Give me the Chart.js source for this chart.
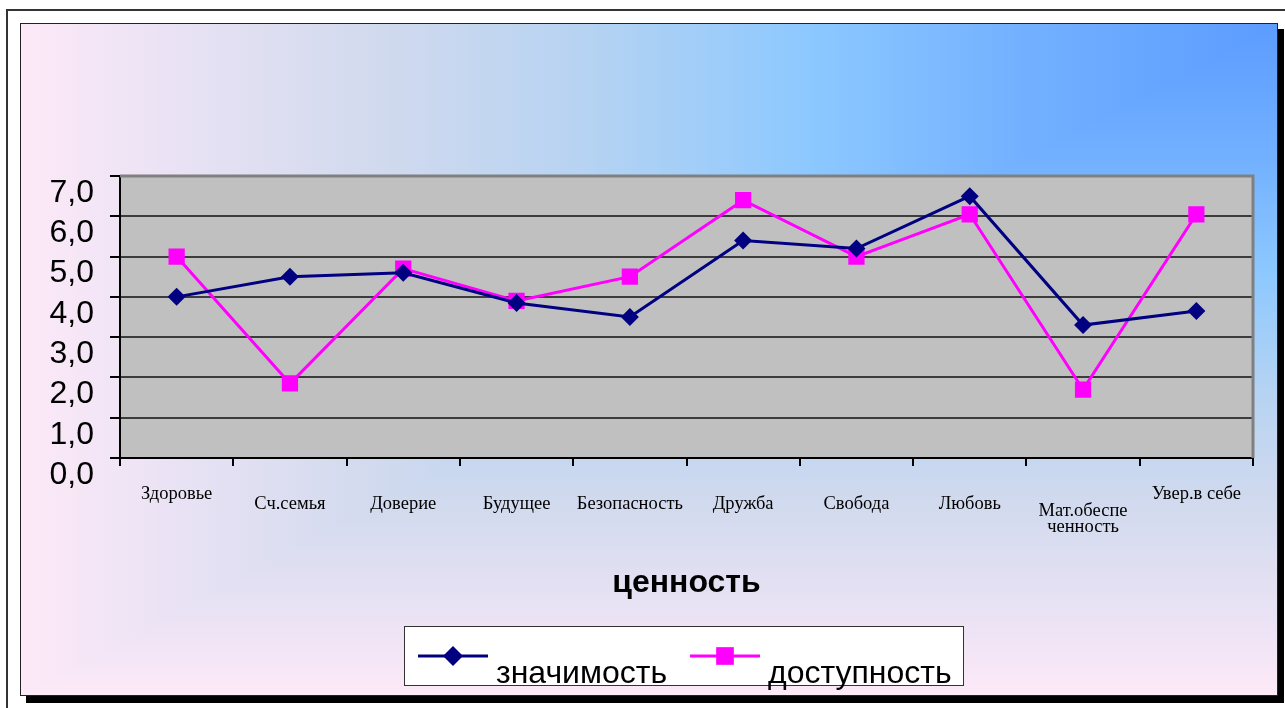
<!DOCTYPE html>
<html lang="ru">
<head>
<meta charset="utf-8">
<title>Ценности: значимость и доступность</title>
<script src="https://cdn.jsdelivr.net/npm/chart.js"></script>
<style>
    html, body { margin: 0; padding: 0; background: #fff; }
    canvas { display: block; }
</style>
</head>
<body>
<canvas id="values-chart" width="1285" height="708"></canvas>
<script>
// Values on the x axis
const categories = ['Здоровье', 'Сч.семья', 'Доверие', 'Будущее', 'Безопасность',
    'Дружба', 'Свобода', 'Любовь', 'Мат.обеспеченность', 'Увер.в себе'];
// How each category name is broken into lines under the axis
const tickLabels = ['Здоровье', 'Сч.семья', 'Доверие', 'Будущее', 'Безопасность',
    'Дружба', 'Свобода', 'Любовь', ['Мат.обеспе', 'ченность'], 'Увер.в себе'];

const significance = [4.0, 4.5, 4.6, 3.85, 3.5, 5.4, 5.2, 6.5, 3.3, 3.65];
const availability = [5.0, 1.85, 4.7, 3.9, 4.5, 6.4, 5.0, 6.05, 1.7, 6.05];

const seriesNames = ['значимость', 'доступность'];
const yTicks = [0, 1, 2, 3, 4, 5, 6, 7];
const xTitle = 'ценность';

const SANS = "'Liberation Sans', Arial, sans-serif";
const SERIF = "'Liberation Serif', 'Times New Roman', serif";

// frame of the chart sheet
const sheet = { x0: 20, y0: 23, x1: 1277, y1: 695 };

// pink -> blue, brightest blue in the top right corner
const gradStops = [
    [0, '#5c9cff'],
    [0.2, '#72b0ff'],
    [0.37, '#8cc8ff'],
    [0.55, '#b6d3f2'],
    [0.72, '#d2daee'],
    [0.87, '#e8e2f4'],
    [1, '#fde9f8']
];

function addStops(g) {
    gradStops.forEach(s => g.addColorStop(s[0], s[1]));
    return g;
}

const backgroundPlugin = {
    id: 'sheetBackground',
    beforeDraw(chart) {
        const ctx = chart.ctx;
        const { x0, y0, x1, y1 } = sheet;
        ctx.save();
        ctx.fillStyle = '#fff';
        ctx.fillRect(0, 0, chart.width, chart.height);

        // outer page frame
        ctx.strokeStyle = '#333';
        ctx.lineWidth = 2;
        ctx.strokeRect(7, 10, 1300, 720);

        // drop shadow
        ctx.fillStyle = '#000';
        ctx.fillRect(x0 + 6, y0 + 6, x1 - x0 + 1, y1 - y0 + 2);

        // corner gradient: horizontal over the whole sheet, then the
        // lower-right triangle runs vertically (colours meet on the diagonal)
        ctx.fillStyle = addStops(ctx.createLinearGradient(x1, 0, x0, 0));
        ctx.fillRect(x0, y0, x1 - x0, y1 - y0);

        ctx.save();
        ctx.beginPath();
        ctx.moveTo(x1, y0); ctx.lineTo(x1, y1); ctx.lineTo(x0, y1); ctx.closePath();
        ctx.clip();
        ctx.fillStyle = addStops(ctx.createLinearGradient(0, y0, 0, y1));
        ctx.fillRect(x0, y0, x1 - x0, y1 - y0);
        ctx.restore();

        ctx.strokeStyle = '#222';
        ctx.lineWidth = 1;
        ctx.strokeRect(x0 + 0.5, y0 + 0.5, x1 - x0, y1 - y0);

        // plot area
        const a = chart.chartArea;
        ctx.fillStyle = '#c0c0c0';
        ctx.fillRect(a.left, a.top, a.right - a.left, a.bottom - a.top);
        ctx.restore();
    },
    beforeDatasetsDraw(chart) {
        const ctx = chart.ctx;
        const a = chart.chartArea;
        ctx.save();
        ctx.strokeStyle = '#808080';
        ctx.lineWidth = 3;
        ctx.beginPath();
        ctx.moveTo(a.left, a.top);
        ctx.lineTo(a.right, a.top);
        ctx.lineTo(a.right, a.bottom);
        ctx.stroke();
        ctx.restore();
    }
};

function drawMarker(ctx, style, x, y, r, color) {
    ctx.fillStyle = color;
    ctx.beginPath();
    if (style === 'rectRot') {
        ctx.moveTo(x, y - r); ctx.lineTo(x + r, y); ctx.lineTo(x, y + r); ctx.lineTo(x - r, y);
    } else {
        const h = r * Math.SQRT1_2;
        ctx.rect(x - h, y - h, 2 * h, 2 * h);
    }
    ctx.closePath();
    ctx.fill();
}

// legend box with the text sitting below the line samples
const legendPlugin = {
    id: 'boxLegend',
    afterDraw(chart) {
        const ctx = chart.ctx;
        const box = { x: 404, y: 626, w: 559, h: 59 };
        ctx.save();
        ctx.fillStyle = '#fff';
        ctx.fillRect(box.x, box.y, box.w, box.h);
        ctx.strokeStyle = '#333';
        ctx.lineWidth = 1;
        ctx.strokeRect(box.x + 0.5, box.y + 0.5, box.w, box.h);

        const starts = [418, 690];
        chart.data.datasets.forEach((ds, i) => {
            const x = starts[i];
            const y = 656;
            ctx.strokeStyle = ds.borderColor;
            ctx.lineWidth = 3;
            ctx.beginPath();
            ctx.moveTo(x, y);
            ctx.lineTo(x + 70, y);
            ctx.stroke();
            drawMarker(ctx, ds.pointStyle, x + 35, y, ds.pointRadius + 1, ds.borderColor);

            ctx.fillStyle = '#000';
            ctx.font = '32px ' + SANS;
            ctx.textBaseline = 'alphabetic';
            ctx.textAlign = 'left';
            ctx.fillText(ds.label, x + 78, 683);
        });
        ctx.restore();
    }
};

// first and last names sit higher, the wrapped one lower
function tickLineHeight(index) {
    if (index === 0 || index === categories.length - 1) return '16px';
    if (Array.isArray(tickLabels[index])) return '16.5px';
    return '36px';
}

new Chart(document.getElementById('values-chart'), {
    type: 'line',
    data: {
        labels: categories,
        datasets: [
            {
                label: seriesNames[0],
                data: significance,
                borderColor: '#000080',
                backgroundColor: '#000080',
                borderWidth: 3,
                pointStyle: 'rectRot',
                pointRadius: 9,
                pointBorderWidth: 0,
                tension: 0
            },
            {
                label: seriesNames[1],
                data: availability,
                borderColor: '#ff00ff',
                backgroundColor: '#ff00ff',
                borderWidth: 3,
                pointStyle: 'rect',
                pointRadius: 11.5,
                pointBorderWidth: 0,
                tension: 0
            }
        ]
    },
    options: {
        responsive: false,
        animation: false,
        devicePixelRatio: 1,
        layout: {
            padding: { left: 20, top: 176, right: 32, bottom: 100 }
        },
        plugins: {
            legend: { display: false },
            tooltip: { enabled: false }
        },
        scales: {
            x: {
                offset: true,
                grid: {
                    offset: true,
                    drawOnChartArea: false,
                    drawTicks: true,
                    tickLength: 8,
                    color: '#000',
                    lineWidth: 2
                },
                border: { display: true, color: '#000', width: 2 },
                ticks: {
                    color: '#000',
                    padding: 20,
                    maxRotation: 0,
                    autoSkip: false,
                    font: ctx => ({ family: SERIF, size: 18.5, lineHeight: tickLineHeight(ctx.index) }),
                    callback: (value, index) => {
                        const t = tickLabels[index];
                        return Array.isArray(t) ? [''].concat(t) : t;
                    }
                },
                title: {
                    display: true,
                    text: xTitle,
                    color: '#000',
                    font: { family: SANS, size: 32, weight: 'bold' },
                    padding: { top: 0, bottom: 6 }
                },
                afterFit: scale => { scale.height = 150; }
            },
            y: {
                min: yTicks[0],
                max: yTicks[yTicks.length - 1],
                grid: {
                    color: ctx => (ctx.tick && ctx.tick.value === yTicks[yTicks.length - 1]) ? '#808080' : '#3c3c3c',
                    tickColor: '#000',
                    lineWidth: 2,
                    tickLength: 10
                },
                border: { display: true, color: '#000', width: 2 },
                afterBuildTicks: scale => {
                    scale.ticks = yTicks.map(v => ({ value: v }));
                },
                ticks: {
                    color: '#000',
                    padding: 16,
                    labelOffset: 17,
                    autoSkip: false,
                    font: { family: SANS, size: 32, lineHeight: 1 },
                    callback: v => v.toFixed(1).replace('.', ',')
                },
                afterFit: scale => { scale.width = 100; }
            }
        }
    },
    plugins: [backgroundPlugin, legendPlugin]
});
</script>
</body>
</html>
